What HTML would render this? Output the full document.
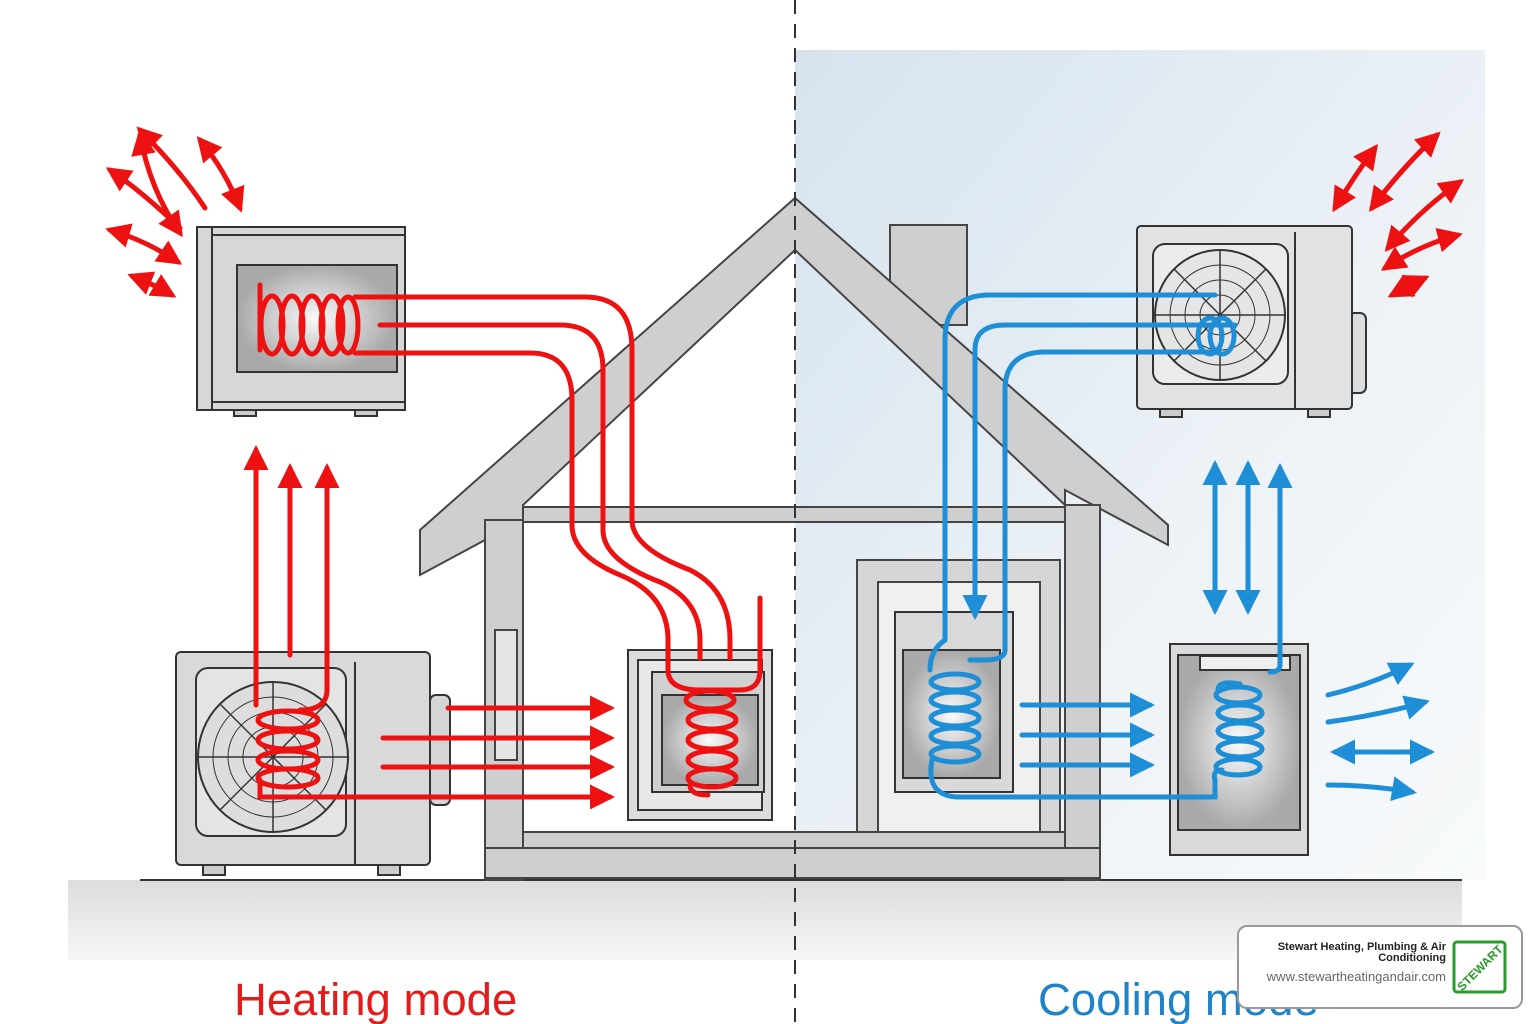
<!DOCTYPE html>
<html><head><meta charset="utf-8"><style>
html,body{margin:0;padding:0;background:#fff;width:1536px;height:1024px;overflow:hidden}
svg{display:block}
</style></head><body>
<svg width="1536" height="1024" viewBox="0 0 1536 1024" xmlns="http://www.w3.org/2000/svg" font-family="Liberation Sans, sans-serif">
<defs>
<linearGradient id="sky" x1="0" y1="0" x2="1" y2="1"><stop offset="0" stop-color="#d6e3ee"/><stop offset="0.6" stop-color="#eef3f7"/><stop offset="1" stop-color="#f8fafb"/></linearGradient>
<linearGradient id="gnd" x1="0" y1="0" x2="0" y2="1"><stop offset="0" stop-color="#dcdcdc"/><stop offset="1" stop-color="#f7f7f7"/></linearGradient>
<radialGradient id="inner"><stop offset="0" stop-color="#fafafa"/><stop offset="1" stop-color="#a9a9a9"/></radialGradient>
<marker id="ar" viewBox="0 0 10 10" refX="8" refY="5" markerWidth="5" markerHeight="5" orient="auto-start-reverse"><path d="M0,0L10,5L0,10z" fill="#ee1111"/></marker>
<marker id="ab" viewBox="0 0 10 10" refX="8" refY="5" markerWidth="5" markerHeight="5" orient="auto-start-reverse"><path d="M0,0L10,5L0,10z" fill="#1e8fd6"/></marker>
</defs>
<rect x="795" y="50" width="690" height="830" fill="url(#sky)"/>
<rect x="68" y="880" width="1394" height="80" fill="url(#gnd)"/>
<line x1="140" y1="880" x2="1462" y2="880" stroke="#333" stroke-width="2"/>

<!-- house -->
<g fill="#cfcfcf" stroke="#444" stroke-width="2">
<rect x="890" y="225" width="77" height="100"/>
<polygon points="420,530 795,198 1168,525 1168,545 1065,490 1065,505 795,250 523,505 523,520 485,520 485,540 420,575"/>
<rect x="485" y="520" width="38" height="360"/>
<rect x="1065" y="505" width="35" height="375"/>
<rect x="523" y="507" width="542" height="15"/>
<rect x="485" y="848" width="615" height="30"/>
<rect x="523" y="832" width="542" height="16"/>
<rect x="495" y="630" width="22" height="130" fill="#e6e6e6"/>
<rect x="857" y="560" width="203" height="272" fill="#d6d6d6"/>
<rect x="878" y="582" width="162" height="250" fill="#f0f0f0"/>
</g>

<!-- left top unit -->
<g stroke="#333" stroke-width="2">
<rect x="197" y="227" width="208" height="183" fill="#d7d7d7"/>
<line x1="212" y1="227" x2="212" y2="410"/>
<line x1="212" y1="235" x2="405" y2="235"/>
<line x1="212" y1="402" x2="405" y2="402"/>
<rect x="237" y="265" width="160" height="107" fill="url(#inner)"/>
<rect x="234" y="410" width="22" height="6" fill="#ccc"/><rect x="355" y="410" width="22" height="6" fill="#ccc"/>
</g>
<!-- left outdoor unit -->
<g stroke="#333" stroke-width="2">
<rect x="430" y="695" width="20" height="110" rx="6" fill="#d5d5d5"/>
<rect x="176" y="652" width="254" height="213" rx="5" fill="#d9d9d9"/>
<line x1="355" y1="662" x2="355" y2="865"/>
<rect x="196" y="668" width="150" height="168" rx="12" fill="#e4e4e4"/>
<circle cx="273" cy="757" r="75" fill="#ddd"/>
<circle cx="273" cy="757" r="60" fill="none" stroke-width="1"/><circle cx="273" cy="757" r="45" fill="none" stroke-width="1"/><circle cx="273" cy="757" r="30" fill="none" stroke-width="1"/>
<line x1="198" y1="757" x2="348" y2="757" stroke-width="1.5"/><line x1="273" y1="682" x2="273" y2="832" stroke-width="1.5"/>
<line x1="220" y1="704" x2="326" y2="810" stroke-width="1.5"/><line x1="326" y1="704" x2="220" y2="810" stroke-width="1.5"/>
<rect x="203" y="865" width="22" height="10" fill="#ccc"/><rect x="378" y="865" width="22" height="10" fill="#ccc"/>
</g>
<!-- left indoor unit -->
<g stroke="#333" stroke-width="2">
<rect x="628" y="650" width="144" height="170" fill="#dcdcdc"/>
<rect x="638" y="660" width="124" height="150" fill="#e8e8e8"/>
<rect x="652" y="672" width="112" height="120" fill="#d0d0d0"/>
<rect x="662" y="695" width="96" height="90" fill="url(#inner)"/>
</g>
<!-- right outdoor unit -->
<g stroke="#333" stroke-width="2">
<rect x="1348" y="313" width="18" height="80" rx="6" fill="#ddd"/>
<rect x="1137" y="226" width="215" height="183" rx="4" fill="#e2e2e2"/>
<line x1="1295" y1="232" x2="1295" y2="409"/>
<rect x="1153" y="244" width="135" height="140" rx="12" fill="#ececec"/>
<circle cx="1220" cy="315" r="65" fill="#e5e5e5"/>
<circle cx="1220" cy="315" r="50" fill="none" stroke-width="1"/><circle cx="1220" cy="315" r="35" fill="none" stroke-width="1"/><circle cx="1220" cy="315" r="20" fill="none" stroke-width="1"/>
<line x1="1155" y1="315" x2="1285" y2="315" stroke-width="1.5"/><line x1="1220" y1="250" x2="1220" y2="380" stroke-width="1.5"/>
<line x1="1174" y1="269" x2="1266" y2="361" stroke-width="1.5"/><line x1="1266" y1="269" x2="1174" y2="361" stroke-width="1.5"/>
<rect x="1160" y="409" width="22" height="8" fill="#ccc"/><rect x="1308" y="409" width="22" height="8" fill="#ccc"/>
</g>
<!-- right indoor box -->
<g stroke="#333" stroke-width="2">
<rect x="895" y="612" width="118" height="180" fill="#d9d9d9"/>
<rect x="903" y="650" width="97" height="128" fill="url(#inner)"/>
<rect x="1170" y="644" width="138" height="211" fill="#dadada"/>
<rect x="1178" y="655" width="122" height="175" fill="url(#inner)"/>
<rect x="1200" y="656" width="90" height="14" fill="#eee"/>
</g>

<!-- dashed center line -->
<line x1="795" y1="0" x2="795" y2="1024" stroke="#333" stroke-width="2" stroke-dasharray="14,10"/>

<!-- red pipes -->
<g fill="none" stroke="#ee1111" stroke-width="5" stroke-linecap="round">
<path d="M355,297 H585 Q632,297 632,350 V520 Q632,548 690,570 Q730,590 730,640 V658"/>
<path d="M380,325 H560 Q603,325 603,370 V530 Q603,560 660,582 Q700,600 700,640 V658"/>
<path d="M355,353 H530 Q572,353 572,400 V525 Q572,555 620,575 Q668,595 668,640 V670 Q668,690 700,690 H740 Q760,690 760,670 V598"/>
<path d="M260,285 V350"/>
<ellipse cx="272" cy="325" rx="11" ry="29"/>
<ellipse cx="292" cy="325" rx="11" ry="29"/>
<ellipse cx="312" cy="325" rx="11" ry="29"/>
<ellipse cx="332" cy="325" rx="11" ry="29"/>
<ellipse cx="348" cy="325" rx="10" ry="28"/>
<ellipse cx="710" cy="700" rx="24" ry="9"/>
<ellipse cx="712" cy="720" rx="24" ry="9"/>
<ellipse cx="712" cy="740" rx="24" ry="9"/>
<ellipse cx="712" cy="760" rx="24" ry="9"/>
<ellipse cx="712" cy="778" rx="24" ry="9"/>
<path d="M690,785 Q690,795 708,795"/>
<path d="M256,460 V705"/>
<ellipse cx="288" cy="720" rx="30" ry="9"/>
<ellipse cx="288" cy="740" rx="30" ry="9"/>
<ellipse cx="288" cy="760" rx="30" ry="9"/>
<ellipse cx="288" cy="778" rx="30" ry="9"/>
<path d="M260,780 V797 H610" marker-end="url(#ar)"/>
<path d="M256,655 V450" marker-end="url(#ar)"/>
<path d="M290,655 V468" marker-end="url(#ar)"/>
<path d="M327,690 V468" marker-end="url(#ar)"/>
<path d="M327,690 Q327,710 300,710"/>
<path d="M448,708 H610" marker-end="url(#ar)"/>
<path d="M383,738 H610" marker-end="url(#ar)"/>
<path d="M383,767 H610" marker-end="url(#ar)"/>
<path d="M180,233 Q150,190 140,135" marker-end="url(#ar)" marker-start="url(#ar)"/>
<path d="M240,208 Q225,170 200,140" marker-end="url(#ar)" marker-start="url(#ar)"/>
<path d="M205,208 Q180,170 140,130" marker-end="url(#ar)"/>
<path d="M178,262 Q145,240 110,230" marker-end="url(#ar)" marker-start="url(#ar)"/>
<path d="M110,170 Q140,190 180,228" marker-start="url(#ar)"/>
<path d="M172,295 Q155,285 132,276" marker-end="url(#ar)" marker-start="url(#ar)"/>
</g>

<!-- blue pipes -->
<g fill="none" stroke="#1e8fd6" stroke-width="5" stroke-linecap="round">
<path d="M945,640 V340 Q945,295 990,295 H1215"/>
<path d="M975,350 Q975,325 1005,325 H1235" />
<path d="M975,350 V615" marker-end="url(#ab)"/>
<path d="M1005,650 V390 Q1005,352 1045,352 H1215"/>
<path d="M1005,650 Q1005,660 985,660 H970"/>
<path d="M945,640 Q930,650 930,670"/>
<ellipse cx="955" cy="682" rx="24" ry="8"/>
<ellipse cx="955" cy="700" rx="24" ry="8"/>
<ellipse cx="955" cy="718" rx="24" ry="8"/>
<ellipse cx="955" cy="736" rx="24" ry="8"/>
<ellipse cx="955" cy="754" rx="24" ry="8"/>
<path d="M932,760 Q925,797 960,797 H1215 V780"/>
<ellipse cx="1238" cy="695" rx="22" ry="8"/>
<ellipse cx="1240" cy="713" rx="22" ry="8"/>
<ellipse cx="1240" cy="731" rx="22" ry="8"/>
<ellipse cx="1240" cy="749" rx="22" ry="8"/>
<ellipse cx="1238" cy="767" rx="22" ry="8"/>
<path d="M1215,780 Q1212,770 1222,770"/>
<path d="M1218,690 Q1218,680 1240,684"/>
<path d="M1280,665 V468" marker-end="url(#ab)"/>
<path d="M1280,665 Q1280,672 1270,672"/>
<path d="M1215,610 V465" marker-end="url(#ab)" marker-start="url(#ab)"/>
<path d="M1248,610 V465" marker-end="url(#ab)" marker-start="url(#ab)"/>
<path d="M1222,318 a12,18 0 1 0 0.1,0 M1210,318 a12,18 0 1 0 0.1,0"/>
<path d="M1022,705 H1150" marker-end="url(#ab)"/>
<path d="M1022,735 H1150" marker-end="url(#ab)"/>
<path d="M1022,765 H1150" marker-end="url(#ab)"/>
<path d="M1328,695 Q1370,685 1410,665" marker-end="url(#ab)"/>
<path d="M1328,722 Q1380,715 1425,702" marker-end="url(#ab)"/>
<path d="M1335,752 H1430" marker-end="url(#ab)" marker-start="url(#ab)"/>
<path d="M1328,785 Q1370,785 1412,792" marker-end="url(#ab)"/>
</g>
<g fill="none" stroke="#ee1111" stroke-width="5" stroke-linecap="round">
<path d="M1335,208 Q1355,175 1375,148" marker-end="url(#ar)" marker-start="url(#ar)"/>
<path d="M1372,208 Q1400,170 1437,135" marker-end="url(#ar)" marker-start="url(#ar)"/>
<path d="M1388,248 Q1420,210 1460,182" marker-end="url(#ar)" marker-start="url(#ar)"/>
<path d="M1385,268 Q1420,245 1458,235" marker-end="url(#ar)" marker-start="url(#ar)"/>
<path d="M1392,295 Q1410,285 1425,278" marker-end="url(#ar)" marker-start="url(#ar)"/>
</g>

<text x="234" y="1015" font-size="45.5" fill="#e41b1b">Heating mode</text>
<text x="1038" y="1015" font-size="45.5" fill="#1f83c8">Cooling mode</text>

<rect x="1238" y="926" width="284" height="82" rx="9" fill="#fff" stroke="#999" stroke-width="2"/>
<text x="1446" y="950" font-size="11" font-weight="bold" fill="#222" text-anchor="end">Stewart Heating, Plumbing &amp; Air</text>
<text x="1446" y="961" font-size="11" font-weight="bold" fill="#222" text-anchor="end">Conditioning</text>
<text x="1446" y="981" font-size="13" fill="#666" text-anchor="end">www.stewartheatingandair.com</text>
<rect x="1454" y="942" width="51" height="50" rx="3" fill="#fff" stroke="#2a9a2a" stroke-width="3"/>
<text x="1480" y="972" font-size="12" font-weight="bold" fill="#2a9a2a" text-anchor="middle" transform="rotate(-45 1480 968)">STEWART</text>
</svg>
</body></html>
